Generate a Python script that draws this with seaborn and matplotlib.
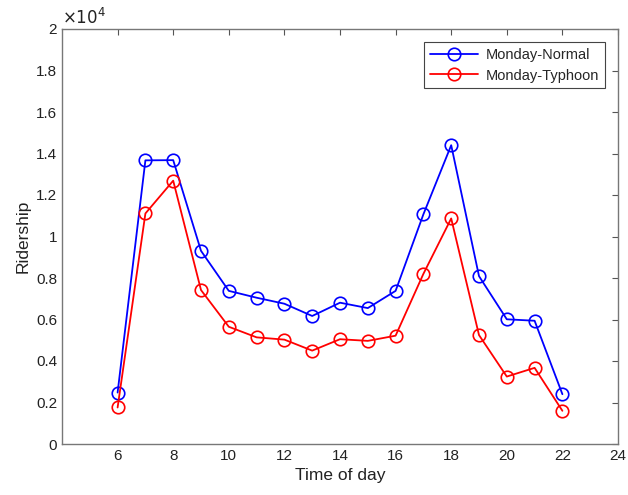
import matplotlib
matplotlib.use("Agg")
import matplotlib.pyplot as plt
import seaborn as sns
import pandas as pd

hours = [6, 7, 8, 9, 10, 11, 12, 13, 14, 15, 16, 17, 18, 19, 20, 21, 22]
normal = [2480, 13670, 13680, 9310, 7380, 7050, 6760, 6170, 6810, 6550, 7380, 11070, 14400, 8090, 6010, 5940, 2400]
typhoon = [1760, 11110, 12690, 7420, 5650, 5140, 5030, 4500, 5050, 4970, 5220, 8200, 10870, 5250, 3250, 3670, 1600]
series_names = ["Monday-Normal", "Monday-Typhoon"]
x_ticks = [6, 8, 10, 12, 14, 16, 18, 20, 22, 24]
y_ticks = [0, 2000, 4000, 6000, 8000, 10000, 12000, 14000, 16000, 18000, 20000]
y_labels = ["0", "0.2", "0.4", "0.6", "0.8", "1", "1.2", "1.4", "1.6", "1.8", "2"]

df = pd.DataFrame({
    "hour": hours * 2,
    "ridership": normal + typhoon,
    "series": [series_names[0]] * len(hours) + [series_names[1]] * len(hours),
})

sns.set_style("white")
plt.rcParams["font.family"] = ["Liberation Sans", "DejaVu Sans"]

fig = plt.figure(figsize=(6.28, 4.95), dpi=100)
ax = fig.add_axes([62 / 628, 1 - 444 / 495, (618 - 62) / 628, (444 - 29) / 495])

sns.lineplot(data=df, x="hour", y="ridership", hue="series",
             palette={series_names[0]: "#0000ff", series_names[1]: "#ff0000"},
             marker="o", markersize=9, markerfacecolor="none", markeredgewidth=1.2,
             linewidth=1.3, ax=ax, legend=True)

for line in ax.get_lines():
    line.set_markeredgecolor(line.get_color())
    line.set_markerfacecolor("none")

ax.set_xlim(4, 24)
ax.set_ylim(0, 20000)
ax.set_xticks(x_ticks)
ax.set_yticks(y_ticks)
ax.set_yticklabels(y_labels)
ax.set_xlabel("Time of day", fontsize=12.5, color="#222222")
ax.set_ylabel("Ridership", fontsize=12.5, color="#222222")
ax.tick_params(direction="in", top=True, right=True, length=4, labelsize=11,
               colors="#555555", labelcolor="#222222", width=0.8)
for sp in ax.spines.values():
    sp.set_visible(True)
    sp.set_color("#777777")
    sp.set_linewidth(1.0)
ax.text(0.0, 1.005, r"$\times10^4$", transform=ax.transAxes, fontsize=12,
        va="bottom", ha="left", color="#222222")

handles, labels = ax.get_legend_handles_labels()
for h in handles:
    h.set_markerfacecolor("none")
    h.set_markeredgecolor(h.get_color())
leg = ax.legend(handles, labels, loc="upper right", fontsize=10.5, frameon=True,
                fancybox=False, edgecolor="#444444", framealpha=1,
                handlelength=3.3, borderaxespad=0.9, borderpad=0.4, labelspacing=0.45,
                handletextpad=0.5)
leg.get_frame().set_linewidth(0.8)

fig.savefig("out.png", dpi=100)
